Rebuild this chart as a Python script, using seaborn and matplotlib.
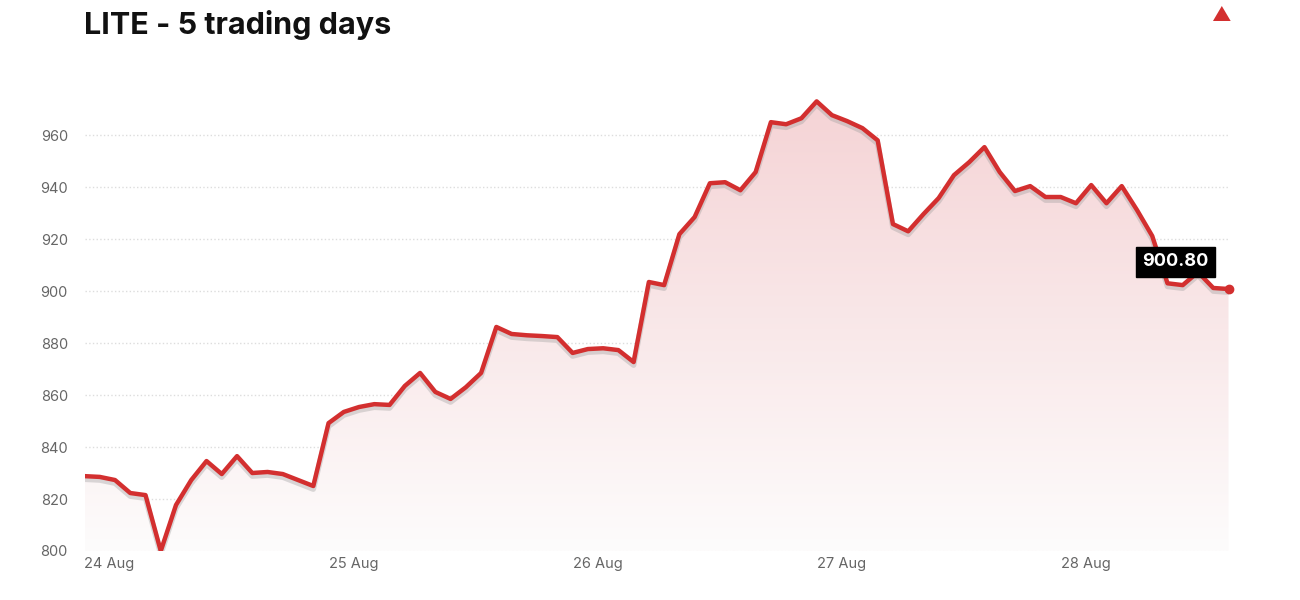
import numpy as np
import matplotlib
matplotlib.use("Agg")
import matplotlib.pyplot as plt
import seaborn as sns
from matplotlib.patches import Polygon

prices = [828.8,828.5,827.3,822.3,821.5,800.0,817.7,827.3,834.6,829.6,836.5,830.0,830.4,829.6,827.3,825.0,
          849.2,853.5,855.4,856.5,856.2,863.5,868.5,861.2,858.5,863.0,868.5,886.2,883.5,883.0,882.7,882.3,
          876.2,877.7,878.0,877.3,872.7,903.5,902.3,921.9,928.5,941.5,941.9,938.8,945.8,965.0,964.2,966.5,
          973.0,967.7,965.4,962.7,958.0,925.8,923.0,929.6,935.8,944.6,949.6,955.4,945.8,938.5,940.4,936.2,
          936.2,933.8,940.8,933.8,940.4,931.2,921.2,903.0,902.3,907.3,901.2,900.8]
day_labels = ["24 Aug", "25 Aug", "26 Aug", "27 Aug", "28 Aug"]
y_ticks = [800, 820, 840, 860, 880, 900, 920, 940, 960]
last_label = "900.80"

sns.set_theme(style="white")
plt.rcParams['font.family'] = ['Inter', 'DejaVu Sans']

x = np.arange(len(prices))
y = np.array(prices)
fig = plt.figure(figsize=(13, 6), dpi=100)
ax = fig.add_axes([0.065, 0.0817, 0.88, 0.758])
ymin, ymax = 800, 975
ax.set_xlim(0, len(prices) - 1)
ax.set_ylim(ymin, ymax)

# gradient fill
grad = np.linspace(0, 1, 256).reshape(-1, 1)
cmap = matplotlib.colors.LinearSegmentedColormap.from_list("g", ["#fdfcfc", "#f5d3d5"])
im = ax.imshow(grad, extent=[0, len(prices) - 1, ymin, ymax], origin="lower",
               aspect="auto", cmap=cmap, zorder=1)
poly = Polygon(np.column_stack([np.r_[x, x[-1], x[0]], np.r_[y, ymin, ymin]]),
               closed=True, facecolor="none", edgecolor="none")
ax.add_patch(poly)
im.set_clip_path(poly)

ax.plot(x, y - 1.2, color="#999999", alpha=0.35, lw=4, zorder=2)
sns.lineplot(x=x, y=y, ax=ax, color="#d32f2f", lw=3.2, zorder=3)
ax.plot([x[-1]], [y[-1]], "o", color="#d32f2f", ms=6, zorder=4, clip_on=False)

ax.set_yticks(y_ticks)
ax.set_xticks(np.arange(0, len(prices), 16))
ax.set_xticklabels(day_labels)
ax.tick_params(axis="both", colors="#666666", labelsize=10.5, length=0)
ax.tick_params(axis="y", pad=12)
ax.tick_params(axis="x", pad=4)
for t in ax.get_xticklabels():
    t.set_horizontalalignment("left")
ax.grid(axis="y", color="#dddddd", linestyle=":", lw=1)
for s in ax.spines.values():
    s.set_visible(False)

ax.text(x[-1] - 3.5, y[-1] + 10.5, last_label, color="white", fontsize=13, fontweight="bold",
        ha="center", va="center", zorder=5,
        bbox=dict(boxstyle="square,pad=0.35", fc="black", ec="black"))

fig.text(0.065, 0.958, "LITE - 5 trading days", fontsize=22, fontweight="bold",
         color="#111111", ha="left", va="center")
fig.text(0.939, 0.973, "▲", fontsize=14, color="#d32f2f", ha="center", va="center")

fig.savefig("out.png", dpi=100)
